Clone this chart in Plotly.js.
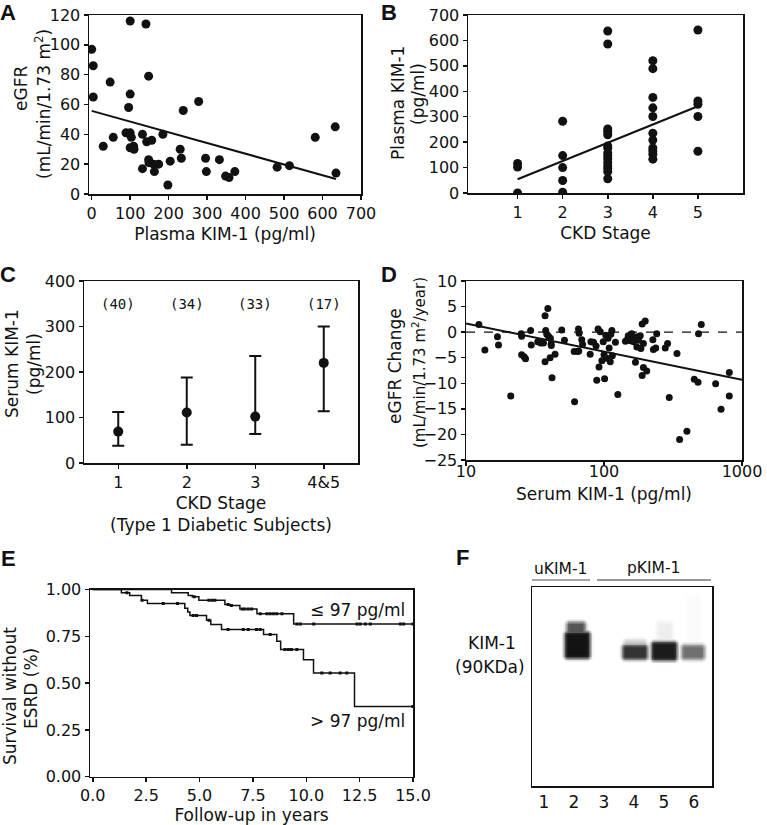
<!DOCTYPE html>
<html>
<head>
<meta charset="utf-8">
<script src="https://cdn.plot.ly/plotly-3.0.1.min.js"></script>
<style>
  html, body { margin: 0; padding: 0; background: #fff; }
  #chart { width: 767px; height: 825px; }
</style>
</head>
<body>
<div id="chart"></div>
<script>
// A: plasma KIM-1 vs eGFR
const aKim = [0, 4, 4, 48, 30, 56, 100, 141, 148, 100, 96, 89, 100, 103, 100, 109, 110, 132, 143, 156,
    132, 148, 149, 161, 174, 163, 185, 204, 198, 230, 233, 238, 278, 296, 298, 332, 348, 357, 372, 482,
    514, 581, 633, 635];
const aEgfr = [97, 86, 65, 75, 32, 38, 116, 114, 79, 67, 58, 41, 41, 38, 31, 32, 30, 40, 35, 36,
    17, 23, 21, 20, 20, 15, 40, 22, 6, 30, 24, 56, 62, 24, 15, 23, 12, 11, 15, 18,
    19, 38, 45, 14];
const aFitX = [0, 635];
const aFitY = [55.7, 10.1];

// B: plasma KIM-1 by CKD stage
const bStage = [1, 1, 1,
    2, 2, 2, 2, 2,
    3, 3, 3, 3, 3, 3, 3, 3, 3, 3, 3, 3, 3, 3, 3,
    4, 4, 4, 4, 4, 4, 4, 4, 4, 4, 4,
    5, 5, 5, 5, 5];
const bKim = [116, 102, 0,
    282, 147, 100, 49, 3,
    637, 586, 252, 242, 229, 185, 177, 158, 146, 135, 120, 106, 96, 84, 56,
    520, 489, 376, 335, 301, 235, 208, 177, 165, 152, 133,
    641, 362, 349, 301, 164];
const bFitX = [1, 5];
const bFitY = [54, 341];

// C: serum KIM-1, type 1 diabetics, median and IQR
const cStages = ['1', '2', '3', '4&5'];
const cMedian = [69, 111, 102, 220];
const cLow = [38, 40, 64, 114];
const cHigh = [112, 188, 235, 300];
const cN = ['(40)', '(34)', '(33)', '(17)'];

// D: eGFR change vs serum KIM-1
const dKim = [12.4, 13.7, 16.9, 17.2, 21.1, 25.1, 25.3, 25.3, 26.4, 27.0,
    29.4, 29.7, 33.1, 34.8, 36.4, 37.4, 39.2, 37.8, 38.5, 37.4,
    39.6, 40.9, 41.4, 40.7, 41.5, 42.0, 44.2, 49.4, 51.7, 60.8,
    61.2, 65.3, 64.6, 65.6, 66, 69, 70, 79.4, 80.4, 84,
    87.6, 88.6, 90.6, 92, 94, 96.5, 98.7, 100, 101, 103,
    104.5, 107, 109, 111, 112, 114, 115, 121, 126, 143,
    149, 150, 155, 159, 164, 166, 169, 173, 175, 178,
    183, 185, 189, 189, 193, 193, 199, 204, 226, 228,
    237, 241, 278, 289, 297, 338, 353, 399, 451, 480,
    484, 507, 644, 705, 809, 809];
const dChange = [1.5, -3.5, -0.9, -2.5, -12.5, -0.3, -0.8, -4.4, -4.8, -5.2,
    0.3, -2.5, -1.9, -2.1, -2.1, 3.2, 4.6, 0.3, -0.4, -5.8,
    -0.8, -1.2, -2.3, -5.0, -2.6, -8.9, -4.3, 0.4, -1.6, -3.8,
    -13.6, 0.6, -3.8, -3.7, -0.2, -1.5, -2.4, -4.3, -1.9, -2.0,
    -2.7, -9.4, 0.6, -6.8, 0.1, -5.6, -1.9, -4.4, -9.1, -0.6,
    -5.1, -1.2, -3.1, -5.8, -0.4, 0.3, -4.6, -2.0, -12.2, -1.8,
    -1.2, -0.7, -1.7, -0.3, -1.9, -1.3, -5.9, -2.9, -0.9, -1.6,
    -0.7, -3.2, 1.6, -8.5, -6.9, -2.2, 2.2, -7.6, -1.5, -3.4,
    -3.1, -0.3, -3.1, -2.2, -12.8, -4.2, -21.0, -19.4, -9.2, -9.8,
    -0.3, 1.5, -10.1, -15.1, -12.5, -7.9];
const dFitX = [10, 1000];
const dFitY = [1.7, -9.3];

// E: Kaplan-Meier, survival without ESRD
const eLowT = [0, 3.69, 4.47, 4.66, 4.97, 6.19, 6.42, 6.89, 7.69, 9.41, 15.0];
const eLowS = [1, 0.982, 0.968, 0.961, 0.943, 0.920, 0.914, 0.896, 0.870, 0.816, 0.816];
const eLowCens = [4.75, 5.44, 5.59, 5.72, 6.34, 6.5, 7.0, 7.12, 7.28, 7.44, 7.84, 8.16, 8.31, 8.47,
    8.62, 8.86, 9.56, 9.72, 10.35, 12.38, 12.53, 12.77, 13.0, 14.41, 14.56, 15.0];
const eHighT = [0, 1.34, 1.73, 2.28, 2.56, 4.31, 4.45, 4.55, 5.33, 5.53, 6.03, 8.0, 8.62, 8.8,
    9.87, 10.34, 12.26, 15.0];
const eHighS = [1, 0.982, 0.968, 0.943, 0.925, 0.90, 0.88, 0.861, 0.836, 0.813, 0.786, 0.759,
    0.723, 0.679, 0.625, 0.554, 0.375, 0.375];
const eHighCens = [1.6, 2.31, 3.3, 3.97, 4.7, 4.86, 5.45, 6.34, 7.05, 7.28, 7.67, 7.84, 8.31,
    9.0, 9.16, 9.31, 9.56, 10.73, 11.12, 11.59, 11.9, 15.0];

// F: western blot, bands per lane (x in lane units, y = px down from blot top)
const fLanes = ['1', '2', '3', '4', '5', '6'];
const bandX0 = [1.84, 1.78, 3.75, 3.7, 4.85, 4.67, 5.85, 5.67];
const bandX1 = [2.25, 2.4, 4.28, 4.32, 5.15, 5.3, 6.1, 6.22];
const bandY0 = [38, 48, 56, 61, 38, 58, 12, 61];
const bandY1 = [48, 68, 60, 69, 55, 70, 55, 69];
const bandInk = [0.65, 0.97, 0.22, 0.8, 0.07, 0.93, 0.02, 0.55];

const W = 767, H = 825;
const font = 'DejaVu Sans, Verdana, sans-serif';
const ink = '#111';

function xd(a, b) { return [a / W, b / W]; }
function yd(top, bottom) { return [1 - bottom / H, 1 - top / H]; }

function ttl(text, standoff) {
    return { text: text, standoff: standoff, font: { family: font, size: 17, color: ink } };
}

function axis(extra) {
    return Object.assign({
        showline: true, mirror: true, linecolor: ink, linewidth: 1.5,
        ticks: 'outside', ticklen: 4, tickwidth: 1.5, tickcolor: ink,
        showgrid: false, zeroline: false, fixedrange: true,
        tickfont: { family: font, size: 16, color: ink }
    }, extra);
}

function stepAt(ts, ss, t) {
    let s = ss[0];
    for (let i = 0; i < ts.length; i++) {
        if (ts[i] <= t) s = ss[i];
    }
    return s;
}

// raster for the blot: each band is a rect with a soft edge
const lanePx = 30, soft = 7;
const fGx = [], fGy = [], fZ = [];
for (let x = 0.6; x <= 6.61; x += 0.05) fGx.push(+x.toFixed(2));
for (let y = 0; y <= 200; y += 1.5) fGy.push(y);
fGy.forEach(y => {
    const row = fGx.map(x => {
        let v = 0;
        for (let k = 0; k < bandInk.length; k++) {
            const dx = Math.max(bandX0[k] - x, 0, x - bandX1[k]) * lanePx;
            const dy = Math.max(bandY0[k] - y, 0, y - bandY1[k]);
            const d = Math.sqrt(dx * dx + dy * dy);
            const f = Math.max(0, 1 - d / soft);
            v = Math.max(v, bandInk[k] * f * f * (3 - 2 * f));
        }
        return v;
    });
    fZ.push(row);
});

const dot = { color: ink };
const data = [
    { x: aKim, y: aEgfr, mode: 'markers', marker: Object.assign({ size: 9 }, dot), xaxis: 'x', yaxis: 'y' },
    { x: aFitX, y: aFitY, mode: 'lines', line: { color: ink, width: 2 }, xaxis: 'x', yaxis: 'y' },

    { x: bStage, y: bKim, mode: 'markers', marker: Object.assign({ size: 9 }, dot), xaxis: 'x2', yaxis: 'y2' },
    { x: bFitX, y: bFitY, mode: 'lines', line: { color: ink, width: 2 }, xaxis: 'x2', yaxis: 'y2' },

    {
        x: cStages.map((s, i) => i + 1), y: cMedian, mode: 'markers',
        marker: Object.assign({ size: 10 }, dot),
        error_y: {
            type: 'data', symmetric: false,
            array: cHigh.map((h, i) => h - cMedian[i]),
            arrayminus: cLow.map((l, i) => cMedian[i] - l),
            thickness: 2, width: 6, color: ink
        },
        xaxis: 'x3', yaxis: 'y3'
    },

    { x: dKim, y: dChange, mode: 'markers', marker: Object.assign({ size: 7 }, dot), xaxis: 'x4', yaxis: 'y4' },
    { x: dFitX, y: dFitY, mode: 'lines', line: { color: ink, width: 2 }, xaxis: 'x4', yaxis: 'y4' },

    { x: eLowT, y: eLowS, mode: 'lines', line: { color: ink, width: 1.5, shape: 'hv' }, xaxis: 'x5', yaxis: 'y5' },
    { x: eHighT, y: eHighS, mode: 'lines', line: { color: ink, width: 1.5, shape: 'hv' }, xaxis: 'x5', yaxis: 'y5' },
    {
        x: eLowCens, y: eLowCens.map(t => stepAt(eLowT, eLowS, t)), mode: 'markers',
        marker: { symbol: 'square', size: 3, color: ink }, xaxis: 'x5', yaxis: 'y5'
    },
    {
        x: eHighCens, y: eHighCens.map(t => stepAt(eHighT, eHighS, t)), mode: 'markers',
        marker: { symbol: 'square', size: 3, color: ink }, xaxis: 'x5', yaxis: 'y5'
    },

    {
        type: 'heatmap', x: fGx, y: fGy, z: fZ, zmin: 0, zmax: 1, zsmooth: 'best',
        colorscale: [[0, '#ffffff'], [0.3, '#b4b4b4'], [0.7, '#474747'], [1, '#0d0d0d']],
        showscale: false, hoverinfo: 'skip', xaxis: 'x6', yaxis: 'y6'
    }
];

function letter(t, px, py) {
    return {
        xref: 'paper', yref: 'paper', x: px / W, y: 1 - py / H, text: '<b>' + t + '</b>',
        showarrow: false, xanchor: 'center', yanchor: 'middle',
        font: { family: 'Liberation Sans, Arial, sans-serif', size: 22, color: ink }
    };
}

function paperText(t, px, py, size, angle) {
    return {
        xref: 'paper', yref: 'paper', x: px / W, y: 1 - py / H, text: t,
        showarrow: false, xanchor: 'center', yanchor: 'middle', textangle: angle || 0,
        font: { family: font, size: size, color: ink }
    };
}

const annotations = [
    letter('A', 8, 13), letter('B', 389, 13), letter('C', 8, 275),
    letter('D', 389, 275), letter('E', 8, 558), letter('F', 462, 557),
    // y-axis titles, one line each
    paperText('eGFR', 21, 89, 17, -90),
    paperText('(mL/min/1.73 m<sup>2</sup>)', 43, 104, 17, -90),
    paperText('Plasma KIM-1', 398, 103, 17, -90),
    paperText('(pg/ml)', 418, 94, 17, -90),
    paperText('Serum KIM-1', 12, 364, 17, -90),
    paperText('(pg/ml)', 34, 364, 17, -90),
    paperText('eGFR Change', 395, 366, 17, -90),
    paperText('(mL/min/1.73 m<sup>2</sup>/year)', 419, 363, 15, -90),
    paperText('Survival without', 10, 696, 17, -90),
    paperText('ESRD (%)', 31, 689, 17, -90),
    {
        xref: 'x5', yref: 'y5', x: 14.72, y: 0.889, text: '≤ 97 pg/ml', showarrow: false,
        xanchor: 'right', yanchor: 'middle', font: { family: font, size: 17, color: ink }
    },
    {
        xref: 'x5', yref: 'y5', x: 14.72, y: 0.295, text: '> 97 pg/ml', showarrow: false,
        xanchor: 'right', yanchor: 'middle', font: { family: font, size: 17, color: ink }
    },
    paperText('KIM-1', 492, 643, 17),
    paperText('(90KDa)', 490, 667, 17),
    paperText('uKIM-1', 560, 569, 15.5),
    paperText('pKIM-1', 653, 568, 15.5)
];
cN.forEach((n, i) => annotations.push({
    xref: 'x3', yref: 'y3', x: i + 1, y: 350, text: n, showarrow: false,
    font: { family: 'DejaVu Sans Mono, monospace', size: 14, color: ink }
}));

const layout = {
    width: W, height: H,
    margin: { l: 0, r: 0, t: 0, b: 0 },
    paper_bgcolor: '#fff', plot_bgcolor: '#fff',
    showlegend: false,
    xaxis: axis({
        domain: xd(89, 361), anchor: 'y', range: [-7, 700], tick0: 0, dtick: 100,
        title: ttl('Plasma KIM-1 (pg/ml)', 6)
    }),
    yaxis: axis({ domain: yd(15, 194), anchor: 'x', range: [0, 120], dtick: 20 }),
    xaxis2: axis({
        domain: xd(468, 743), anchor: 'y2', range: [-0.1, 6], tickvals: [1, 2, 3, 4, 5],
        title: ttl('CKD Stage', 6)
    }),
    yaxis2: axis({ domain: yd(15, 193), anchor: 'x2', range: [0, 700], dtick: 100 }),
    xaxis3: axis({
        domain: xd(84, 358), anchor: 'y3', range: [0.5, 4.5],
        tickvals: [1, 2, 3, 4], ticktext: cStages,
        title: ttl('CKD Stage<br>(Type 1 Diabetic Subjects)', 6)
    }),
    yaxis3: axis({ domain: yd(281, 463), anchor: 'x3', range: [0, 400], dtick: 100 }),
    xaxis4: axis({
        domain: xd(466, 742), anchor: 'y4', type: 'log', range: [1, 3],
        tickvals: [10, 100, 1000], ticktext: ['10', '100', '1000'], ticklabelstandoff: -8,
        title: ttl('Serum KIM-1 (pg/ml)', 8)
    }),
    yaxis4: axis({ domain: yd(281, 460), anchor: 'x4', range: [-25, 10], dtick: 5 }),
    xaxis5: axis({
        domain: xd(90, 413), anchor: 'y5', range: [-0.13, 15], tick0: 0, dtick: 2.5, tickformat: '.1f',
        title: ttl('Follow-up in years', 4)
    }),
    yaxis5: axis({ domain: yd(589.5, 776.7), anchor: 'x5', range: [0, 1], dtick: 0.25, tickformat: '.2f' }),
    xaxis6: axis({
        domain: xd(532, 712), anchor: 'y6', range: [0.6, 6.6], tickvals: [1, 2, 3, 4, 5, 6],
        ticktext: fLanes, ticks: '', tickfont: { family: font, size: 17, color: ink }
    }),
    yaxis6: axis({
        domain: yd(587, 786), anchor: 'x6', range: [200, 0], ticks: '', showticklabels: false
    }),
    shapes: [
        {
            type: 'line', xref: 'x4 domain', yref: 'y4', x0: 0, x1: 1, y0: 0, y1: 0,
            line: { color: ink, width: 1.2, dash: 'dash' }
        },
        {
            type: 'line', xref: 'paper', yref: 'paper', x0: 532 / W, x1: 590 / W,
            y0: 1 - 580 / H, y1: 1 - 580 / H, line: { color: '#8a8a8a', width: 1.5 }
        },
        {
            type: 'line', xref: 'paper', yref: 'paper', x0: 597 / W, x1: 711 / W,
            y0: 1 - 580 / H, y1: 1 - 580 / H, line: { color: '#333', width: 1 }
        }
    ],
    annotations: annotations
};

Plotly.newPlot('chart', data, layout, { staticPlot: true });
</script>
</body>
</html>
